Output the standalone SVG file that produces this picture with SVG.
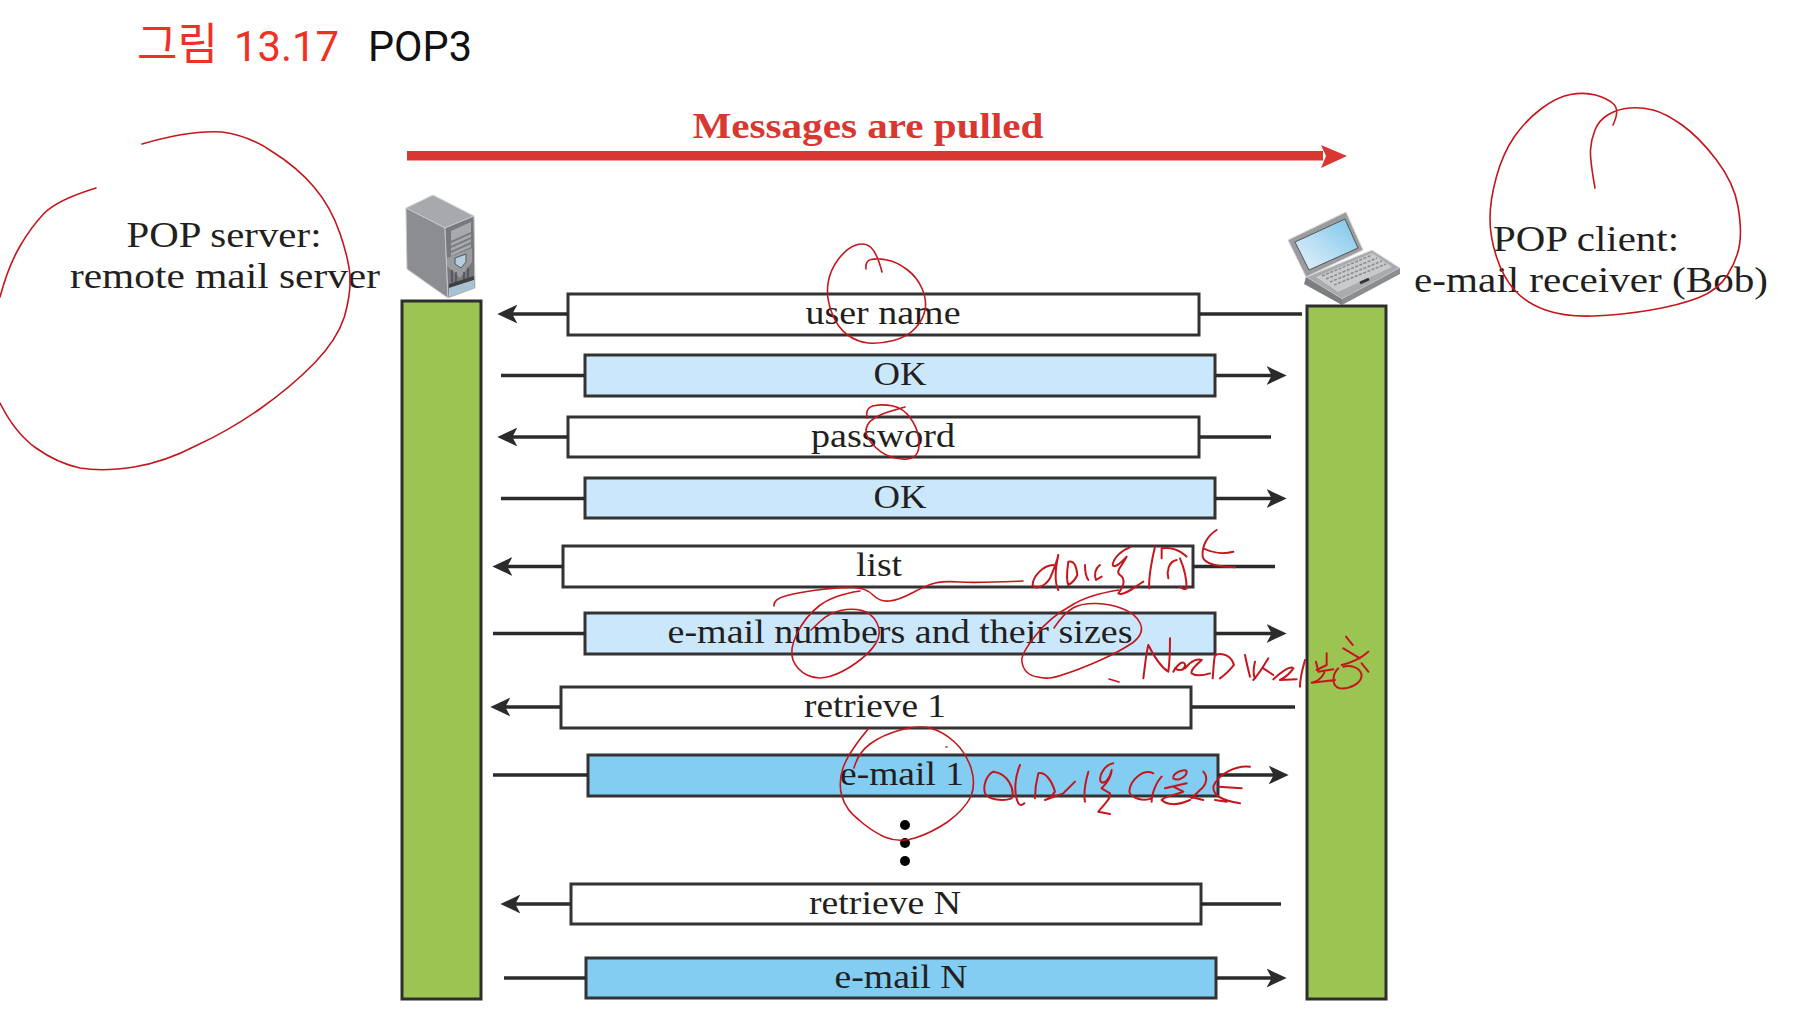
<svg xmlns="http://www.w3.org/2000/svg" width="1802" height="1034" viewBox="0 0 1802 1034">
<style>
.t{font-family:"Liberation Serif","Times New Roman",serif;font-size:33.5px;fill:#231f20;text-anchor:middle}
.b{font-size:35px}
.h{font-family:"Noto Sans CJK KR","Liberation Sans",sans-serif;font-size:44px;font-weight:400}
.s{font-family:Roboto,"Liberation Sans",Arial,sans-serif;font-size:42px;font-weight:400}
.bar{fill:#9bc453;stroke:#2e2e2e;stroke-width:3}
.w{fill:#fff;stroke:#333;stroke-width:3}
.l{fill:#cbe7fb;stroke:#333;stroke-width:3}
.d{fill:#83cdf2;stroke:#333;stroke-width:3}
.c{fill:none;stroke:#2b2b2b;stroke-width:3.5}
.a{marker-end:url(#ah)}
.ink{fill:none;stroke:#c4161c;stroke-width:1.6;stroke-linecap:round;stroke-linejoin:round}
.hw{fill:none;stroke:#c4161c;stroke-width:6;stroke-linecap:round;stroke-linejoin:round}
</style>
<defs>
<marker id="ah" markerUnits="userSpaceOnUse" markerWidth="20" markerHeight="20" viewBox="0 0 18 18" refX="12" refY="9" orient="auto"><path d="M18 9L0 0.5L4.5 9L0 17.5Z" fill="#2b2b2b"/></marker>
<linearGradient id="scr" x1="0" y1="1" x2="1" y2="0"><stop offset="0" stop-color="#e6f3fb"/><stop offset="1" stop-color="#7cc4ea"/></linearGradient>
</defs>
<rect width="1802" height="1034" fill="#fff"/>

<g id="title">
<text class="h" x="137" y="60" fill="#ee3124">그림</text>
<text class="s" x="234" y="61" fill="#ee3124" textLength="105" lengthAdjust="spacingAndGlyphs">13.17</text>
<text class="s" x="368" y="61" fill="#111" textLength="104" lengthAdjust="spacingAndGlyphs">POP3</text>
</g>

<g id="pull-arrow">
<rect x="407" y="151" width="916" height="9.5" fill="#d93832"/>
<path d="M1321 145L1347 156L1321 168L1326 156Z" fill="#d93832"/>
<text x="868" y="138" text-anchor="middle" font-family="'Liberation Serif',serif" font-weight="700" font-size="35" fill="#d93832" textLength="351" lengthAdjust="spacingAndGlyphs">Messages are pulled</text>
</g>

<g id="server-label"><text class="t b" x="224" y="247" textLength="195" lengthAdjust="spacingAndGlyphs">POP server:</text><text class="t b" x="225" y="288" textLength="310" lengthAdjust="spacingAndGlyphs">remote mail server</text></g>
<g id="client-label"><text class="t b" x="1586" y="251" textLength="186" lengthAdjust="spacingAndGlyphs">POP client:</text><text class="t b" x="1591" y="292" textLength="354" lengthAdjust="spacingAndGlyphs">e-mail receiver (Bob)</text></g>

<g id="server-icon">
<path d="M433 195L406 208L445 228L474 216Z" fill="#a7a9ac" stroke="#d5d6d8"/>
<path d="M406 208L445 228L448 298L407 269Z" fill="#8b8d90" stroke="#c5c6c8"/>
<path d="M445 228L474 216L475 288L448 298Z" fill="#77797c" stroke="#c5c6c8"/>
<path d="M451 231L471 222V232L451 241ZM451 243L471 234V237L451 246ZM451 248L471 239V242L451 251ZM451 253L471 244V247L451 256Z" fill="#a7a9ac"/>
<path d="M447 258L472 248V262L460 278L447 266Z" fill="#9a9c9f"/>
<path d="M455 258L466 254V262L461 268L455 264Z" fill="#b6cfe0" stroke="#555"/>
<path d="M452 270V282M456 272V282M464 272V280M468 268V280" stroke="#4d4f52" stroke-width="1.5" fill="none"/>
<path d="M449 284L474 276V280L449 288Z" fill="#3f4144"/>
<path d="M449 288L474 280V288L449 297Z" fill="#a8c2cf"/>
</g>

<g id="laptop-icon">
<path d="M1306 277L1372 250L1400 268L1342 299Z" fill="#a9abae" stroke="#e0e0e0"/>
<path d="M1306 277L1342 299L1342 305L1304 284Z" fill="#7c7e81"/>
<path d="M1342 299L1400 268L1400 274L1342 305Z" fill="#8b8d90"/>
<path d="M1288 240L1346 212L1363 250L1306 277Z" fill="#9a9c9f" stroke="#d5d6d8"/>
<path d="M1295 242L1345 219L1358 248L1309 270Z" fill="url(#scr)" stroke="#555"/>
<path d="M1316 277L1372 253L1392 267L1338 292Z" fill="#c9cacc"/>
<path d="M1322 276L1372 255M1326 279L1377 258M1330 282L1382 261M1334 285L1386 264" stroke="#8b8d90" stroke-width="1.6" stroke-dasharray="3 1.5" fill="none"/>
<path d="M1360 283L1369 279" stroke="#333" stroke-width="3"/>
</g>

<g id="server-bar"><rect class="bar" x="402" y="301" width="79" height="698"/></g>
<g id="client-bar"><rect class="bar" x="1307" y="306" width="79" height="693"/></g>

<g id="msg-user-name"><rect class="w" x="568" y="294" width="631" height="41"/><text class="t" x="883" y="324" textLength="155" lengthAdjust="spacingAndGlyphs">user name</text></g>
<g id="msg-ok-1"><rect class="l" x="585" y="355" width="630" height="41"/><text class="t" x="900" y="385" textLength="53" lengthAdjust="spacingAndGlyphs">OK</text></g>
<g id="msg-password"><rect class="w" x="568" y="417" width="631" height="40"/><text class="t" x="883" y="447" textLength="144" lengthAdjust="spacingAndGlyphs">password</text></g>
<g id="msg-ok-2"><rect class="l" x="585" y="478" width="630" height="40"/><text class="t" x="900" y="508" textLength="53" lengthAdjust="spacingAndGlyphs">OK</text></g>
<g id="msg-list"><rect class="w" x="563" y="546" width="630" height="41"/><text class="t" x="879" y="576" textLength="46" lengthAdjust="spacingAndGlyphs">list</text></g>
<g id="msg-numbers"><rect class="l" x="585" y="613" width="630" height="41"/><text class="t" x="900" y="643" textLength="465" lengthAdjust="spacingAndGlyphs">e-mail numbers and their sizes</text></g>
<g id="msg-retrieve-1"><rect class="w" x="561" y="687" width="630" height="41"/><text class="t" x="875" y="717" textLength="142" lengthAdjust="spacingAndGlyphs">retrieve 1</text></g>
<g id="msg-email-1"><rect class="d" x="588" y="755" width="630" height="41"/><text class="t" x="902" y="785" textLength="124" lengthAdjust="spacingAndGlyphs">e-mail 1</text></g>
<g id="ellipsis"><circle cx="905" cy="825" r="5" fill="#000"/><circle cx="905" cy="843" r="5" fill="#000"/><circle cx="905" cy="861" r="5" fill="#000"/></g>
<g id="msg-retrieve-n"><rect class="w" x="571" y="884" width="630" height="40"/><text class="t" x="885" y="914" textLength="152" lengthAdjust="spacingAndGlyphs">retrieve N</text></g>
<g id="msg-email-n"><rect class="d" x="586" y="958" width="630" height="40"/><text class="t" x="901" y="988" textLength="133" lengthAdjust="spacingAndGlyphs">e-mail N</text></g>

<g id="connectors">
<path class="c a" d="M568 314H504"/><path class="c" d="M1199 314H1302"/>
<path class="c" d="M501 375.5H585"/><path class="c a" d="M1215 375.5H1280"/>
<path class="c a" d="M568 437H504"/><path class="c" d="M1199 437H1271"/>
<path class="c" d="M501 498.5H585"/><path class="c a" d="M1215 498.5H1280"/>
<path class="c a" d="M563 566.5H499"/><path class="c" d="M1193 566.5H1275"/>
<path class="c" d="M493 633.5H585"/><path class="c a" d="M1215 633.5H1280"/>
<path class="c a" d="M561 707H497"/><path class="c" d="M1191 707H1295"/>
<path class="c" d="M493 775H588"/><path class="c a" d="M1218 775H1282"/>
<path class="c a" d="M571 904H507"/><path class="c" d="M1201 904H1281"/>
<path class="c" d="M504 978H586"/><path class="c a" d="M1216 978H1280"/>
</g>

<g id="annotations">
<path class="ink" d="M142 144Q190 130 222 132Q250 136 272 151.5Q297 167 314 187Q331 207 340 233.5Q349 260 350 276.5Q351 293 344.5 316.5Q337 340 314 363.5Q291 387 260.5 408.5Q230 430 197.5 445Q165 462 134 467Q103 472 80 468Q57 463 36 448Q15 433 0 403"/>
<path class="ink" d="M96 188Q57 200 44 213.5Q31 227 19.5 247Q8 267 0 297"/>
<path class="ink" d="M1613 125Q1620 110 1613.5 104Q1607 98 1595.5 95Q1584 92 1570.5 94.5Q1557 97 1541.5 108.5Q1526 120 1514.5 136.5Q1503 153 1496.5 176.5Q1490 200 1490 218.5Q1490 237 1496.5 257Q1503 277 1514.5 290Q1526 303 1545.5 310Q1565 317 1593.5 316Q1622 315 1651 310Q1680 305 1699 297.5Q1718 290 1727.5 275Q1737 260 1739.5 245Q1742 230 1738 206.5Q1734 183 1716.5 160Q1699 137 1682 125Q1665 113 1653 110Q1641 107 1629.5 108Q1618 109 1608.5 114.5Q1599 120 1595 130Q1591 140 1590.5 150Q1590 160 1595 188"/>
<path class="ink" d="M882 272Q877 253 871 247.5Q865 242 856 245Q847 248 838.5 259Q830 270 828 283.5Q826 297 831.5 312Q837 327 847 334.5Q857 342 868.5 343Q880 344 893.5 340.5Q907 337 915 328.5Q923 320 925 310Q927 300 922 288.5Q917 277 907 269.5Q897 262 887 260Q877 258 871 259.5Q865 261 866 269"/>
<path class="ink" d="M867 418Q865 407 875 405.5Q883 404 893 406Q903 408 910 417.5Q917 427 918.5 437Q920 447 917.5 452.5Q915 458 907.5 459Q900 460 890 456.5Q880 453 871.5 443Q863 433 867.5 425Q872 417 888 412L905 407"/>
<path class="ink" d="M860 591Q833 595 819 606Q805 617 797 633.5Q789 650 793 660Q797 670 807 675Q817 680 829.5 676.5Q842 673 856 663Q870 653 876 643Q882 633 877 623Q872 613 862 610.5Q852 608 840.5 610.5Q829 613 820 621.5L811 630"/>
<path class="ink" d="M774 606Q773 599 787 595.5Q801 592 821.5 589.5Q842 587 854 587.5Q866 588 873 595Q880 602 889.5 601Q899 600 913 592.5Q927 585 935.5 583Q944 581 960 582Q976 583 1023 581"/>
<path class="ink" d="M1119 590Q1087 595 1070.5 606Q1050 617 1036 635Q1020 655 1022 662Q1024 675 1038 677Q1048 680 1062 675Q1078 670 1098.5 661Q1119 652 1133 642.5Q1145 633 1140 623Q1135 613 1122 608.5Q1111 604 1096.5 603.5Q1082 603 1073 608Q1064 613 1054 628"/>
<path class="ink" d="M854 768Q858 753 870 744Q882 735 900.5 730Q919 725 931.5 728.5Q944 732 955 742.5Q966 753 971 768Q976 783 971 796.5Q964 810 947.5 822Q931 833 915 838Q899 843 884.5 837Q870 830 859 820Q846 810 842 796.5Q838 783 843 768Q848 753 869 728"/>
<path class="ink" d="M946 747h1M1109 679L1119 682"/>
<g transform="translate(1020 530) scale(.3333)"><path class="hw" d="M100 105C70 105 38 140 38 165C45 180 75 170 90 145C105 110 112 90 115 75C105 120 105 160 115 180M145 95C165 90 170 115 172 135C165 150 155 160 145 165M145 95C140 130 140 155 145 165M195 105C195 125 198 140 205 150M240 105C225 115 222 135 228 150L245 140M330 52C305 60 280 85 278 105C285 118 310 90 320 80C305 110 285 125 300 135C315 145 315 165 295 190C310 200 345 170 370 155M405 50C395 90 385 150 388 175M425 85L425 55C450 50 480 60 500 80M470 90C445 95 440 125 445 145M480 85C495 120 500 150 500 175C495 180 485 175 480 170M590 0C565 15 545 45 548 80C555 105 600 110 645 112M550 55C580 70 615 72 640 65"/></g>
<g transform="translate(1130 630) scale(.3333)"><path class="hw" d="M40 145C45 110 48 70 55 45C70 75 90 110 115 125C120 90 120 55 120 25M130 125C150 90 165 95 165 105C165 120 150 125 135 115M165 115C185 90 205 85 215 90C200 105 180 120 185 130C200 140 225 135 240 130M255 75C250 100 250 130 248 145M255 75C280 65 305 80 312 105C300 120 285 135 270 145M345 75C350 100 355 120 360 140M375 95C370 115 370 135 375 145M415 85C400 110 385 135 370 150M400 115L430 135M430 148C455 125 480 105 490 115C480 130 460 145 450 150L500 148M525 90C515 125 510 150 510 170M590 70L590 105L560 120M558 95L565 125L610 118M583 128C575 145 560 155 545 158L615 150M648 20L668 45M640 55L690 85M715 65C695 85 660 100 635 105M695 100L715 125M625 115C605 135 605 170 630 175C660 178 695 160 695 135C690 110 660 105 640 110"/></g>
<g transform="translate(970 750) scale(.3333)"><path class="hw" d="M70 65C50 75 38 105 45 130C55 150 100 155 125 145C135 120 115 70 70 65M150 45C135 80 130 130 145 160C150 168 158 165 163 160M205 70C197 100 195 125 195 145M205 70C225 65 245 90 255 125C245 140 235 148 225 150L280 130L315 95M355 65C345 100 340 130 345 155M430 40C405 45 385 75 392 95C405 105 420 85 425 60C425 85 405 105 395 115L420 130C425 145 400 165 385 185L420 192M550 70C520 55 480 90 478 125C482 145 520 155 545 145M575 80C560 95 545 130 545 155M610 80C615 65 650 55 650 65C650 80 625 95 610 85M585 115L650 100M610 110L640 125C620 135 590 135 575 150C590 165 620 168 660 150M700 65C715 80 710 105 690 120L665 145M660 140L700 150M840 50C800 45 745 70 730 110C730 135 750 150 810 160M735 150L770 155M745 110L815 115"/></g>
</g>
</svg>
